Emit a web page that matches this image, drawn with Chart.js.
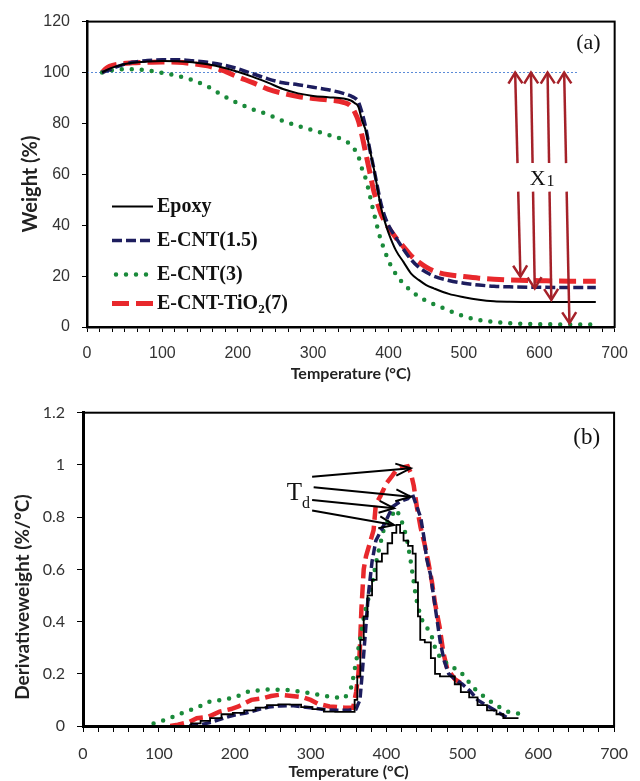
<!DOCTYPE html>
<html><head><meta charset="utf-8">
<script src="https://cdn.jsdelivr.net/npm/chart.js@4.4.1/dist/chart.umd.min.js"></script>
<style>
html,body{margin:0;padding:0;background:#fff;}
#wrap{position:relative;width:640px;height:781px;overflow:hidden;}
#c1{position:absolute;left:0;top:0;}
#c2{position:absolute;left:0;top:390px;}
</style></head><body>
<div id="wrap"><canvas id="c1" width="640" height="390"></canvas><canvas id="c2" width="640" height="391"></canvas></div>
<script>
// ---------- (a) TGA: weight (%) vs temperature (°C) ----------
const refLineT = [0, 650];
const refLineW = [100, 100];

const epoxyT = [20,30,40,60,80,100,120,140,160,180,200,220,240,260,280,300,320,340,350,355,360,365,370,375,380,385,390,395,400,410,420,430,440,450,460,480,500,520,540,560,600,640,675];
const epoxyW = [100,101.5,102.5,103.8,104.3,104.5,104.4,104,103.2,102,100.3,98.3,96,93.5,91.8,90.8,90.3,89.8,89,88,86.5,81,77,70,63,55,47,41.5,37,30,25.5,21,18.5,16.5,15.2,13,11.7,10.7,10.1,9.9,9.8,9.8,9.8];

const cnt15T = [20,30,40,60,80,100,120,140,160,180,200,220,240,260,280,300,320,340,350,355,360,365,370,375,380,385,390,395,400,410,420,430,440,450,460,480,500,520,540,560,600,640,675];
const cnt15W = [100,101,102.3,104,104.7,105,105,104.6,104,103,101.5,99.5,97.5,96,95.2,94.2,93.2,91.8,90.8,90,88.5,84,78,70,63,55.5,48.5,43.5,40,35,30.5,26.5,23.5,21.5,20,18.3,17.2,16.5,16,15.8,15.6,15.5,15.5];

const cnt3T = [20,30,40,60,80,100,120,140,160,180,200,220,240,260,280,300,320,340,350,360,365,370,375,380,385,390,395,400,410,420,430,440,450,460,480,500,520,540,560,600,640,680];
const cnt3W = [100,100.7,101.2,101.3,100.8,99.8,98.7,97,94.5,91,88,85.5,83.5,81,79,77.3,75.5,73.5,71.5,67,62,58,52,45.5,39.5,34,30,26,20.7,17,14.2,12,10.3,9,6.5,4.2,2.8,2,1.5,1.1,1,1];

const tio2T = [20,25,30,40,60,80,100,120,140,160,180,200,220,240,260,280,300,320,340,350,355,360,365,370,375,380,385,390,395,400,410,420,430,440,450,460,480,500,520,540,560,600,640,675];
const tio2W = [100,101.5,102.4,103.2,103.8,104,104.1,104,103.5,102.6,100.8,98.3,96,93.5,91.8,90.6,89.8,89.2,88.3,86.8,84.5,81,75,68,61,54,49,44.5,41.5,39,35,31.5,28,25.5,23.5,22,20.5,19.8,19.2,18.8,18.5,18.2,18,18];

// X1 double arrows (from 100 % down to each residual weight)
const x1ArrowTopT = [568, 589, 611, 633];
const x1ArrowBottomT = [575, 594, 616, 640];
const x1ArrowResidualW = [19.8, 15.2, 10.6, 1.5];
const x1GapW = [64.4, 53.2];

// ---------- (b) DTG: derivative weight (%/°C) vs temperature ----------
const epoxyDT = [135,150,160,175,190,205,220,235,250,265,280,295,310,325,340,356,360,363,368,372,378,384,390,398,405,410,416,420,425,432,437,440,443,446,455,462,466,475,487,493,503,515,525,540,550,558,574];
const epoxyDD = [0,0.01,0.02,0.03,0.045,0.05,0.06,0.07,0.08,0.083,0.082,0.072,0.065,0.055,0.054,0.054,0.1,0.19,0.33,0.42,0.5,0.56,0.63,0.66,0.7,0.74,0.77,0.74,0.71,0.69,0.66,0.55,0.42,0.33,0.32,0.26,0.2,0.19,0.19,0.16,0.13,0.11,0.08,0.06,0.045,0.03,0.03];

const cnt15DT = [140,155,170,185,200,215,230,245,260,275,290,305,320,335,350,360,365,368,372,376,381,386,393,400,408,418,428,434,440,445,449,453,458,463,467,471,476,482,490,500,510,520,540,560];
const cnt15DD = [0,0.005,0.015,0.03,0.042,0.05,0.062,0.073,0.077,0.078,0.073,0.068,0.062,0.06,0.06,0.065,0.1,0.2,0.35,0.5,0.63,0.71,0.75,0.79,0.84,0.86,0.87,0.89,0.84,0.8,0.73,0.64,0.58,0.48,0.4,0.32,0.25,0.2,0.18,0.16,0.135,0.1,0.065,0.03];

const cnt3DT = [93,110,134,150,168,185,200,220,246,272,298,310,330,345,354,362,371,380,388,397,405,413,418,423,428,432,436,439,444,449,458,464,471,484,497,508,518,530,540,550,561,574];
const cnt3DD = [0.01,0.025,0.054,0.07,0.095,0.1,0.11,0.134,0.14,0.138,0.126,0.12,0.11,0.107,0.15,0.28,0.43,0.53,0.65,0.76,0.8,0.83,0.8,0.76,0.7,0.63,0.55,0.49,0.43,0.39,0.36,0.3,0.26,0.23,0.21,0.17,0.137,0.11,0.088,0.07,0.054,0.048];

const tio2DT = [115,125,140,150,165,180,195,205,215,222,235,248,260,275,290,300,310,325,345,356,360,363,365,367,370,373,378,383,386,392,400,408,413,420,428,432,436,440,445,450,455,460,464,470,475,480,490,500];
const tio2DD = [0,0.005,0.015,0.03,0.035,0.055,0.065,0.075,0.09,0.1,0.105,0.115,0.12,0.115,0.11,0.1,0.085,0.075,0.07,0.07,0.13,0.2,0.3,0.45,0.6,0.65,0.7,0.75,0.85,0.88,0.93,0.96,0.98,0.99,0.995,0.97,0.92,0.84,0.76,0.7,0.63,0.55,0.47,0.38,0.28,0.22,0.18,0.16];

// Td arrows (tail -> peak)
const tdTailT = [302, 304, 302, 302];
const tdTailD = [0.955, 0.914, 0.866, 0.825];
const tdHeadT = [432, 432, 410, 410];
const tdHeadD = [0.987, 0.878, 0.834, 0.770];

const seriesNames = ['Epoxy', 'E-CNT(1.5)', 'E-CNT(3)', 'E-CNT-TiO2(7)'];

// ---------- styles ----------
const C_BLACK = '#000000', C_NAVY = '#1d1d5e', C_GREEN = '#1a8a3a', C_RED = '#e8282c', C_ARROW = '#a52129', C_REF = '#5b8bd8';
const TICK_COLOR = '#333333';

function pts(xs, ys) { return xs.map((v, i) => ({x: v, y: ys[i]})); }
function isMultiple(v, m) { return Math.abs(Math.round(v / m) * m - v) < 1e-6; }

const styles = [
  {borderColor: C_BLACK, borderWidth: 2, borderDash: [], borderCapStyle: 'butt'},
  {borderColor: C_NAVY, borderWidth: 3.5, borderDash: [10, 4], borderCapStyle: 'butt'},
  {borderColor: C_GREEN, borderWidth: 4.5, borderDash: [0, 10], borderCapStyle: 'round'},
  {borderColor: C_RED, borderWidth: 5, borderDash: [17, 7], borderCapStyle: 'butt'}
];

function arrowHead(ctx, x0, y0, x1, y1, len, half) {
  const dx = x1 - x0, dy = y1 - y0, L = Math.hypot(dx, dy), ux = dx / L, uy = dy / L;
  const bx = x1 - ux * len, by = y1 - uy * len;
  ctx.beginPath();
  ctx.moveTo(bx - uy * half, by + ux * half);
  ctx.lineTo(x1, y1);
  ctx.lineTo(bx + uy * half, by - ux * half);
  ctx.stroke();
}

const boxPlugin = {
  id: 'box',
  afterDraw(chart) {
    const {ctx, chartArea: a} = chart;
    ctx.save();
    ctx.strokeStyle = '#000'; ctx.lineWidth = 2;
    ctx.strokeRect(a.left, a.top, a.right - a.left, a.bottom - a.top);
    ctx.restore();
  }
};

const annotA = {
  id: 'annotA',
  afterDraw(chart) {
    const {ctx, chartArea: a, scales: {x, y}} = chart;
    ctx.save();
    // X1 arrows
    ctx.strokeStyle = C_ARROW; ctx.lineWidth = 2.5; ctx.lineCap = 'butt';
    let midXs = [];
    for (let i = 0; i < x1ArrowTopT.length; i++) {
      const xt = x.getPixelForValue(x1ArrowTopT[i]), yt = y.getPixelForValue(100);
      const xb = x.getPixelForValue(x1ArrowBottomT[i]), yb = y.getPixelForValue(x1ArrowResidualW[i]);
      const xAt = (w) => { const yy = y.getPixelForValue(w); return xt + (xb - xt) * (yy - yt) / (yb - yt); };
      const g1y = y.getPixelForValue(x1GapW[0]), g2y = y.getPixelForValue(x1GapW[1]);
      const g1x = xAt(x1GapW[0]), g2x = xAt(x1GapW[1]);
      midXs.push((g1x + g2x) / 2);
      ctx.beginPath(); ctx.moveTo(xt, yt); ctx.lineTo(g1x, g1y); ctx.stroke();
      arrowHead(ctx, g1x, g1y, xt, yt, 11, 7);
      ctx.beginPath(); ctx.moveTo(g2x, g2y); ctx.lineTo(xb, yb); ctx.stroke();
      arrowHead(ctx, g2x, g2y, xb, yb, 11, 7);
    }
    const gapMidY = (y.getPixelForValue(x1GapW[0]) + y.getPixelForValue(x1GapW[1])) / 2;
    const cx = (Math.min(...midXs) + Math.max(...midXs)) / 2;
    ctx.fillStyle = '#111';
    ctx.textBaseline = 'alphabetic';
    ctx.font = '22px "Liberation Serif"';
    const wX = ctx.measureText('X').width;
    ctx.font = '16px "Liberation Serif"';
    const w1 = ctx.measureText('1').width;
    const startX = cx - (wX + w1 + 1) / 2;
    ctx.font = '22px "Liberation Serif"'; ctx.textAlign = 'left';
    ctx.fillText('X', startX, gapMidY + 7.5);
    ctx.font = '16px "Liberation Serif"';
    ctx.fillText('1', startX + wX + 1, gapMidY + 8.5);
    // panel label
    ctx.font = '22px "Liberation Serif"'; ctx.textAlign = 'right'; ctx.textBaseline = 'middle';
    ctx.fillText('(a)', a.right - 14, a.top + 22);
    // legend
    const rows = [a.top + 185, a.top + 219, a.top + 253, a.top + 282];
    const lx0 = a.left + 25, lx1 = a.left + 66, tx = a.left + 70;
    for (let i = 0; i < 4; i++) {
      const s = styles[i];
      ctx.save();
      ctx.strokeStyle = s.borderColor; ctx.lineWidth = s.borderWidth; ctx.setLineDash(s.borderDash); ctx.lineCap = s.borderCapStyle;
      ctx.beginPath(); ctx.moveTo(lx0 + (i === 2 ? 4 : 0), rows[i]); ctx.lineTo(lx1, rows[i]); ctx.stroke();
      ctx.restore();
      ctx.fillStyle = '#111'; ctx.textAlign = 'left'; ctx.textBaseline = 'middle';
      ctx.font = 'bold 20px "Liberation Serif"';
      if (i < 3) {
        ctx.fillText(seriesNames[i], tx, rows[i]);
      } else {
        const p1 = 'E-CNT-TiO', p3 = '(7)';
        ctx.fillText(p1, tx, rows[i]);
        const w = ctx.measureText(p1).width;
        ctx.font = 'bold 13px "Liberation Serif"';
        ctx.fillText('2', tx + w, rows[i] + 6);
        const w2 = ctx.measureText('2').width;
        ctx.font = 'bold 20px "Liberation Serif"';
        ctx.fillText(p3, tx + w + w2, rows[i]);
      }
    }
    ctx.restore();
  }
};

const annotB = {
  id: 'annotB',
  afterDraw(chart) {
    const {ctx, chartArea: a, scales: {x, y}} = chart;
    ctx.save();
    ctx.strokeStyle = '#000'; ctx.lineWidth = 2;
    let tailXs = [], tailYs = [];
    for (let i = 0; i < tdTailT.length; i++) {
      const x0 = x.getPixelForValue(tdTailT[i]), y0 = y.getPixelForValue(tdTailD[i]);
      const x1 = x.getPixelForValue(tdHeadT[i]), y1 = y.getPixelForValue(tdHeadD[i]);
      tailXs.push(x0); tailYs.push(y0);
      ctx.beginPath(); ctx.moveTo(x0, y0); ctx.lineTo(x1, y1); ctx.stroke();
      arrowHead(ctx, x0, y0, x1, y1, 15, 6);
    }
    const tx = Math.min(...tailXs) - 2;
    const ty = (Math.min(...tailYs) + Math.max(...tailYs)) / 2;
    ctx.fillStyle = '#111'; ctx.textBaseline = 'alphabetic'; ctx.textAlign = 'right';
    ctx.font = '16px "Liberation Serif"';
    const wd = ctx.measureText('d').width;
    ctx.fillText('d', tx, ty + 14);
    ctx.font = '25px "Liberation Serif"';
    ctx.fillText('T', tx - wd, ty + 6);
    ctx.font = '23px "Liberation Serif"'; ctx.textAlign = 'right'; ctx.textBaseline = 'middle';
    ctx.fillText('(b)', a.right - 14, a.top + 25);
    ctx.restore();
  }
};

function makeDatasets(list) {
  return list.map((d, i) => Object.assign({
    label: seriesNames[i], data: d, pointRadius: 0, fill: false, tension: 0
  }, styles[i]));
}

function axisCommon(tickLen, borderW) {
  return {
    grid: {drawOnChartArea: false, drawTicks: true, tickLength: tickLen, color: '#000', lineWidth: 1},
    border: {display: true, color: '#000', width: borderW}
  };
}

function build() {
  // ---- chart (a)
  const dsA = makeDatasets([pts(epoxyT, epoxyW), pts(cnt15T, cnt15W), pts(cnt3T, cnt3W), pts(tio2T, tio2W)]);
  dsA.forEach(d => { d.cubicInterpolationMode = 'monotone'; });
  dsA.push({label: 'ref', data: pts(refLineT, refLineW), borderColor: C_REF, borderWidth: 1, borderDash: [2, 2], pointRadius: 0});
  new Chart(document.getElementById('c1'), {
    type: 'line',
    data: {datasets: dsA},
    options: {
      responsive: false, animation: false,
      layout: {padding: {top: 21.5, right: 16, left: 0, bottom: 0}},
      plugins: {legend: {display: false}, tooltip: {enabled: false}},
      scales: {
        x: Object.assign({
          type: 'linear', min: 0, max: 700,
          afterFit: s => { s.height = 63; },
          ticks: {stepSize: 100 / 6, autoSkip: false, maxRotation: 0, minRotation: 0, padding: 12,
            font: {family: 'Liberation Sans', size: 16}, color: TICK_COLOR,
            callback: v => isMultiple(v, 100) ? String(Math.round(v)) : ''},
          title: {display: true, text: 'Temperature (°C)', color: '#222',
            font: {family: 'Lato', size: 16, weight: 'bold'}, padding: {top: 0, bottom: 7}}
        }, axisCommon(5, 2.5)),
        y: Object.assign({
          type: 'linear', min: 0, max: 120,
          afterFit: s => { s.width = 87; },
          ticks: {stepSize: 20, padding: 12, font: {family: 'Liberation Sans', size: 16}, color: TICK_COLOR},
          title: {display: true, text: 'Weight (%)' + '    ', color: '#222',
            font: {family: 'Lato', size: 20, weight: 'bold'}, padding: {top: 19, bottom: 0}}
        }, axisCommon(5, 2.5))
      }
    },
    plugins: [boxPlugin, annotA]
  });

  // ---- chart (b)
  const dsB = makeDatasets([pts(epoxyDT, epoxyDD), pts(cnt15DT, cnt15DD), pts(cnt3DT, cnt3DD), pts(tio2DT, tio2DD)]);
  dsB[0].borderWidth = 1.8; dsB[0].stepped = 'middle';
  dsB[1].borderWidth = 3.5; dsB[1].borderDash = [9, 4];
  dsB[3].borderWidth = 4.5; dsB[3].borderDash = [14, 6];
  new Chart(document.getElementById('c2'), {
    type: 'line',
    data: {datasets: dsB},
    options: {
      responsive: false, animation: false,
      layout: {padding: {top: 22.7, right: 16, left: 0, bottom: 0}},
      plugins: {legend: {display: false}, tooltip: {enabled: false}},
      scales: {
        x: Object.assign({
          type: 'linear', min: 0, max: 700,
          afterFit: s => { s.height = 55; },
          ticks: {stepSize: 20, autoSkip: false, maxRotation: 0, minRotation: 0, padding: 12,
            font: {family: 'Lato', size: 16}, color: TICK_COLOR,
            callback: v => isMultiple(v, 100) ? String(Math.round(v)) : ''},
          title: {display: true, text: 'Temperature (°C)', color: '#222',
            font: {family: 'Lato', size: 16, weight: 'bold'}, padding: {top: 0, bottom: 0}}
        }, axisCommon(6, 3)),
        y: Object.assign({
          type: 'linear', min: 0, max: 1.2,
          afterFit: s => { s.width = 83; },
          ticks: {stepSize: 0.2, padding: 12, font: {family: 'Lato', size: 16}, color: TICK_COLOR,
            callback: v => String(parseFloat(v.toFixed(1)))},
          title: {display: true, text: 'Derivativeweight (%/°C)' + '            ', color: '#222',
            font: {family: 'Lato', size: 19, weight: 'bold'}, padding: {top: 11, bottom: 0}}
        }, axisCommon(6, 3))
      }
    },
    plugins: [boxPlugin, annotB]
  });
}

const fontLoads = ['16px "Liberation Sans"', 'bold 16px Lato', '16px Lato', 'bold 20px "Liberation Serif"', '20px "Liberation Serif"']
  .map(f => document.fonts.load(f).catch(() => null));
Promise.all(fontLoads).then(build, build);
</script>
</body></html>
